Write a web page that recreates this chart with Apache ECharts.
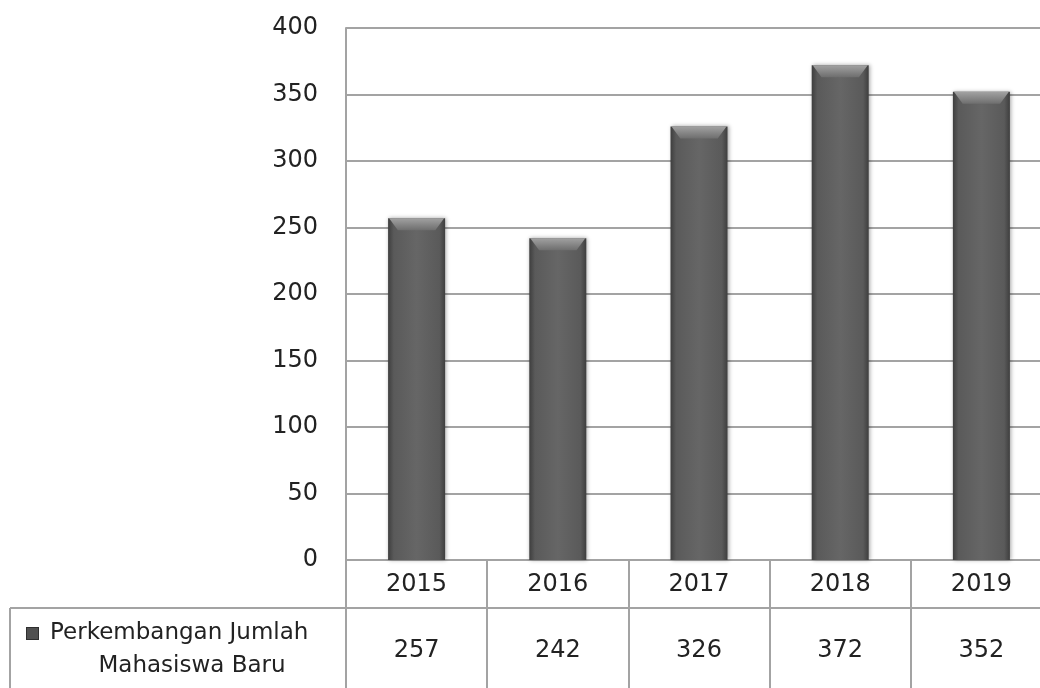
<!DOCTYPE html>
<html>
<head>
<meta charset="utf-8">
<script src="https://cdn.jsdelivr.net/npm/echarts@6/dist/echarts.min.js"></script>
<style>
  html, body { margin: 0; padding: 0; background: #fff; }
  #chart { width: 1040px; height: 688px; }
</style>
</head>
<body>
<div id="chart"></div>
<script>
// data
const years = ['2015', '2016', '2017', '2018', '2019']
const mahasiswaBaru = [257, 242, 326, 372, 352]
const seriesName = 'Perkembangan Jumlah Mahasiswa Baru'
const yTicks = { min: 0, max: 400, interval: 50 }

const lineColor = '#a3a3a3'
const font = 'DejaVu Sans'

const chart = echarts.init(document.getElementById('chart'))

chart.setOption({
  animation: false,
  textStyle: { fontFamily: font },
  grid: {
    left: 346,
    width: 706,
    top: 28,
    bottom: 128,
    outerBoundsMode: 'none'
  },
  legend: {
    data: [seriesName],
    left: 22,
    top: 622,
    padding: 0,
    itemWidth: 0,
    itemHeight: 0,
    icon: 'rect',
    selectedMode: false,
    formatter: () => '{i|}{s|}{a|Perkembangan Jumlah}\n{b|Mahasiswa Baru}',
    textStyle: {
      color: '#222',
      fontSize: 23,
      rich: {
        i: { width: 11, height: 11, backgroundColor: '#505050', borderColor: '#2e2e2e', borderWidth: 1 },
        s: { width: 12 },
        a: { fontSize: 23, color: '#222', lineHeight: 33 },
        b: { fontSize: 23, color: '#222', lineHeight: 33, width: 330, align: 'center' }
      }
    }
  },
  xAxis: [{
    type: 'category',
    data: years,
    position: 'bottom',
    axisLine: { show: true, lineStyle: { color: lineColor, width: 2 } },
    axisTick: { show: true, length: 48, lineStyle: { color: lineColor, width: 2 } },
    axisLabel: { margin: 13, fontSize: 24, color: '#222' }
  }, {
    type: 'category',
    data: mahasiswaBaru.map(String),
    position: 'bottom',
    offset: 48,
    axisLine: { show: true, lineStyle: { color: lineColor, width: 2 } },
    axisTick: { show: true, length: 90, lineStyle: { color: lineColor, width: 2 } },
    axisLabel: { margin: 31, fontSize: 24, color: '#222' }
  }],
  yAxis: {
    type: 'value',
    min: yTicks.min,
    max: yTicks.max,
    interval: yTicks.interval,
    axisLine: { show: true, lineStyle: { color: lineColor, width: 2 } },
    axisTick: { show: false },
    axisLabel: { margin: 28, fontSize: 24, color: '#222' },
    splitLine: { show: true, lineStyle: { color: lineColor, width: 2 } }
  },
  graphic: [{
    type: 'line',
    shape: { x1: 10, y1: 608, x2: 346, y2: 608 },
    style: { stroke: lineColor, lineWidth: 2 }
  }, {
    type: 'line',
    shape: { x1: 10, y1: 608, x2: 10, y2: 700 },
    style: { stroke: lineColor, lineWidth: 2 }
  }],
  series: [{
    name: seriesName,
    type: 'bar',
    data: mahasiswaBaru,
    barWidth: 57,
    itemStyle: {
      color: new echarts.graphic.LinearGradient(0, 0, 1, 0, [
        { offset: 0, color: '#3e3e3e' },
        { offset: 0.1, color: '#5a5a5a' },
        { offset: 0.5, color: '#666666' },
        { offset: 0.9, color: '#5a5a5a' },
        { offset: 1, color: '#3e3e3e' }
      ]),
      shadowBlur: 4,
      shadowColor: 'rgba(0,0,0,0.35)',
      shadowOffsetX: 1
    }
  }, {
    // bevel on top of each bar
    name: 'bevel',
    type: 'pictorialBar',
    data: mahasiswaBaru,
    symbol: 'path://M0,0 L10,0 L8.4,1 L1.6,1 Z',
    symbolSize: [55, 12],
    symbolPosition: 'end',
    symbolOffset: [0, 0],
    z: 3,
    itemStyle: {
      color: new echarts.graphic.LinearGradient(0, 0, 0, 1, [
        { offset: 0, color: '#a2a2a2' },
        { offset: 1, color: '#6e6e6e' }
      ])
    }
  }]
})
</script>
</body>
</html>
